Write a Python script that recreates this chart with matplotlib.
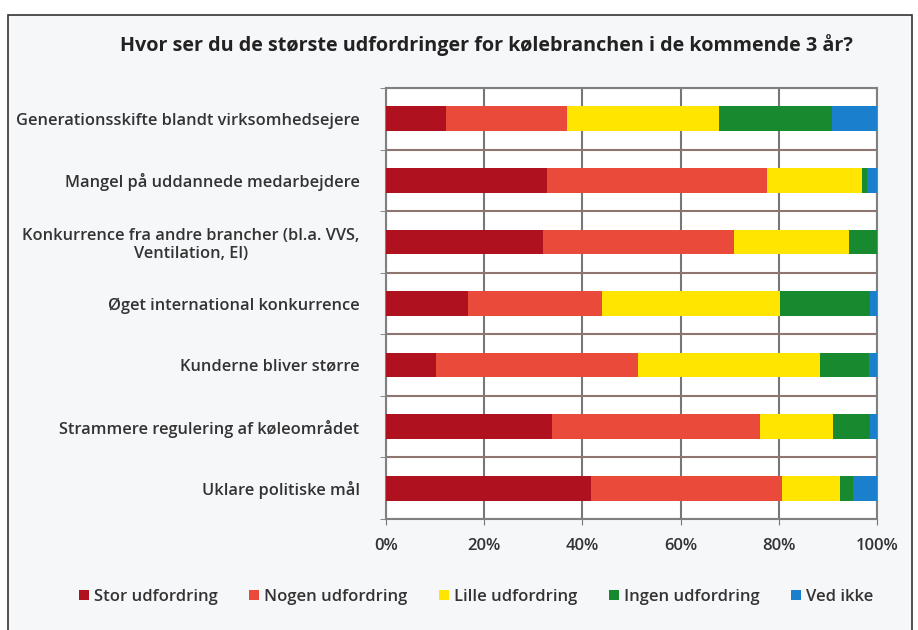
import numpy as np
import matplotlib
matplotlib.use("Agg")
import matplotlib.pyplot as plt
from matplotlib.patches import Rectangle

plt.rcParams['font.family'] = ['Open Sans', 'DejaVu Sans']

# Data (shares in %)
categories = [
    "Generationsskifte blandt virksomhedsejere",
    "Mangel på uddannede medarbejdere",
    "Konkurrence fra andre brancher (bl.a. VVS,\nVentilation, El)",
    "Øget international konkurrence",
    "Kunderne bliver større",
    "Strammere regulering af køleområdet",
    "Uklare politiske mål",
]
series_names = ["Stor udfordring", "Nogen udfordring", "Lille udfordring",
                "Ingen udfordring", "Ved ikke"]
stor = [12.2, 32.7, 32.0, 16.6, 10.2, 33.9, 41.7]
nogen = [24.7, 44.9, 38.9, 27.3, 41.1, 42.3, 38.9]
lille = [30.9, 19.4, 23.3, 36.4, 37.0, 14.9, 11.9]
ingen = [23.0, 1.0, 5.8, 18.3, 10.1, 7.5, 2.7]
ved_ikke = [9.2, 2.0, 0.0, 1.4, 1.6, 1.4, 4.8]
x_ticks = [0, 20, 40, 60, 80, 100]
x_ticklabels = ["0%", "20%", "40%", "60%", "80%", "100%"]

colors = ["#b0111f", "#e94a39", "#ffe500", "#178a2f", "#1a7fcc"]

fig = plt.figure(figsize=(9.18, 6.3), dpi=100)
fig.patch.set_facecolor("white")

# light panel with dark frame around the chart
fig.patches.append(Rectangle((8 / 918, -0.02), 904 / 918, 1 - 15 / 630 + 0.02,
                             transform=fig.transFigure, facecolor="#f6f7f9",
                             edgecolor="#333333", linewidth=1.2, zorder=-1))

ax = fig.add_axes([386 / 918, 1 - 519 / 630, 491 / 918, 431 / 630])
ax.set_facecolor("white")

y = np.arange(len(categories))
left = np.zeros(len(categories))
for name, vals, col in zip(series_names, [stor, nogen, lille, ingen, ved_ikke], colors):
    ax.barh(y, vals, left=left, height=0.4, color=col, label=name, zorder=3)
    left += np.array(vals)

ax.set_xlim(0, 100)
ax.set_ylim(len(categories) - 0.5, -0.5)
ax.set_xticks(x_ticks)
ax.set_xticklabels(x_ticklabels, fontsize=12, fontweight='semibold', color="#333333")
ax.set_yticks(y)
ax.set_yticklabels(categories, fontsize=11.8, fontweight='semibold', color="#333333",
                   multialignment='center')
ax.set_yticks(np.arange(len(categories) + 1) - 0.5, minor=True)

ax.tick_params(axis='y', which='major', length=0, pad=19)
ax.tick_params(axis='y', which='minor', length=4, color="#777777")
ax.tick_params(axis='x', length=4, color="#777777", pad=10)

ax.grid(axis='x', which='major', color="#777777", linewidth=1.5, zorder=1)
ax.grid(axis='y', which='minor', color="#8f7570", linewidth=1.5, zorder=1)
for s in ax.spines.values():
    s.set_color("#808080")
    s.set_linewidth(1.5)

fig.text(486 / 918, 1 - 45 / 630,
         "Hvor ser du de største udfordringer for kølebranchen i de kommende 3 år?",
         ha='center', va='center', fontsize=14.2, fontweight='bold', color="#222222")

fig.legend(loc='center', bbox_to_anchor=(476 / 918, 1 - 597 / 630), ncol=5,
           frameon=False, handlelength=0.6, handleheight=0.6, handletextpad=0.3,
           columnspacing=1.9, prop={'size': 12, 'weight': 'semibold'},
           labelcolor="#333333")

fig.savefig("out.png", dpi=100)
